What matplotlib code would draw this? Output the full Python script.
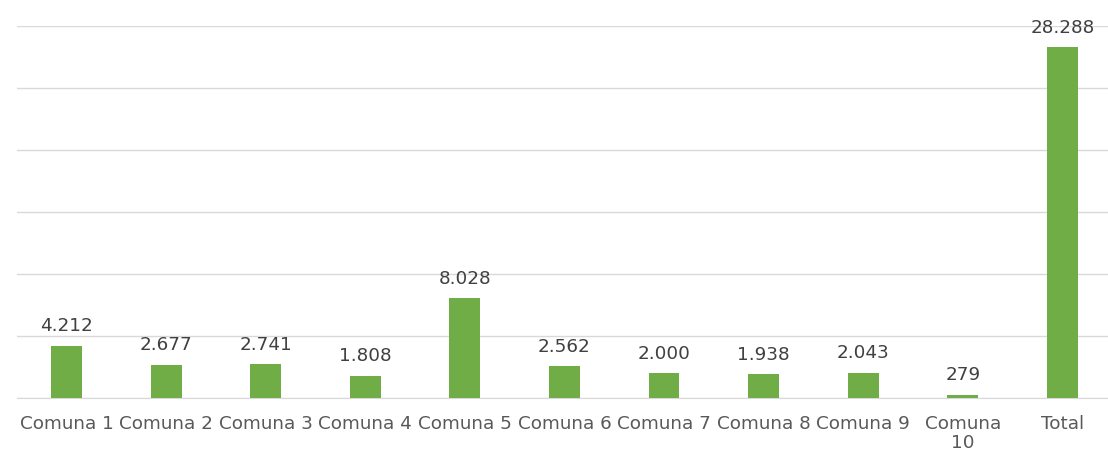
import numpy as np
import matplotlib
matplotlib.use("Agg")
import matplotlib.pyplot as plt

plt.rcParams["font.family"] = ["DejaVu Sans"]

# Data
categories = ["Comuna 1", "Comuna 2", "Comuna 3", "Comuna 4", "Comuna 5",
              "Comuna 6", "Comuna 7", "Comuna 8", "Comuna 9", "Comuna\n10", "Total"]
values = [4212, 2677, 2741, 1808, 8028, 2562, 2000, 1938, 2043, 279, 28288]

W, H = 1108, 451
fig = plt.figure(figsize=(W / 100, H / 100), dpi=100)
ax = fig.add_axes([16.7 / W, (H - 398) / H, 1095.5 / W, 372 / H])

x = np.arange(len(categories))
ax.bar(x, values, width=0.31, color="#70AD47", zorder=3)

for xi, v in zip(x, values):
    label = f"{v:,}".replace(",", ".")
    ax.annotate(label, (xi, v), xytext=(0, 7.5), textcoords="offset points",
                ha="center", va="bottom", fontsize=13.2, color="#404040")

ax.set_xlim(-0.5, len(categories) - 0.5)
ax.set_ylim(0, 30000)
ax.set_yticks(np.arange(0, 30001, 5000))
ax.set_yticklabels([])
ax.tick_params(axis="y", length=0)
ax.grid(axis="y", color="#D9D9D9", lw=1, zorder=0)

ax.set_xticks(x)
ax.set_xticklabels(categories, fontsize=13.2, color="#595959", linespacing=1.1)
ax.tick_params(axis="x", length=0, pad=12)

for s in ["top", "right", "left"]:
    ax.spines[s].set_visible(False)
ax.spines["bottom"].set_color("#D9D9D9")

fig.savefig("out.png", dpi=100)
